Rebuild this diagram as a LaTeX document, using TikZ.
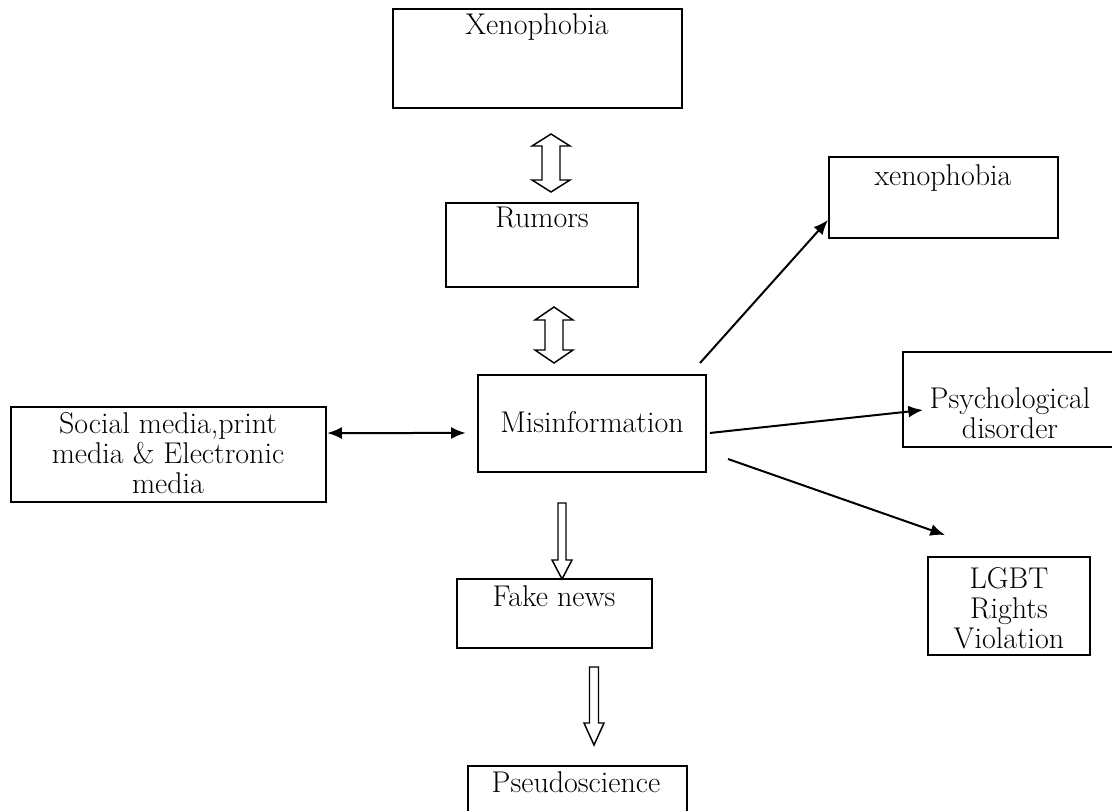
\documentclass[tikz,border=0pt]{standalone}
\usetikzlibrary{fit,arrows.meta}
\tikzset{
  box/.style={draw, line width=1.8pt, inner sep=0pt},
  lbl/.style={font=\fontsize{22.5}{22.5}\selectfont, inner sep=0pt, align=center},
  conn/.style={line width=1.5pt, -{Latex[length=11pt,width=9pt]}},
  blockarrow/.style={draw, line width=1.1pt, fill=white, line join=miter},
}
% vertical double block arrow: cx, ytop, ybot, head half width, shaft half width, head length
\newcommand\vDblArrow[6]{%
  \draw[blockarrow] (#1,#2) -- ({#1+#4},{#2+#6}) -- ({#1+#5},{#2+#6}) -- ({#1+#5},{#3-#6})
    -- ({#1+#4},{#3-#6}) -- (#1,#3) -- ({#1-#4},{#3-#6}) -- ({#1-#5},{#3-#6})
    -- ({#1-#5},{#2+#6}) -- ({#1-#4},{#2+#6}) -- cycle;}
% downward block arrow: cx, ytop, ytip, head half width, shaft half width, head length
\newcommand\vDownArrow[6]{%
  \draw[blockarrow] ({#1-#5},#2) -- ({#1+#5},#2) -- ({#1+#5},{#3-#6}) -- ({#1+#4},{#3-#6})
    -- (#1,#3) -- ({#1-#4},{#3-#6}) -- ({#1-#5},{#3-#6}) -- cycle;}
\begin{document}
\begin{tikzpicture}[x=0.75pt,y=-0.75pt]
\useasboundingbox (0,0) rectangle (1112,810);
% boxes
\node[box, fit={(393,9)(682,108)}] (xeno) {};
\node[box, fit={(446,203)(638,287)}] (rumors) {};
\node[box, fit={(829,157)(1058,238)}] (xenor) {};
\node[box, fit={(478,375)(706,472)}] (misinfo) {};
\node[box, fit={(11,407)(326,502)}] (social) {};
\node[box, fit={(903,352)(1120,447)}] (psych) {};
\node[box, fit={(928,557)(1090,655)}] (lgbt) {};
\node[box, fit={(457,579)(652,648)}] (fake) {};
\node[box, fit={(468,766)(687,830)}] (pseudo) {};
% texts (anchor base = baseline of the last line)
\node[lbl, anchor=base] (xenoT) at (537,34) {Xenophobia};
\node[lbl, anchor=base] (rumorsT) at (542,227) {Rumors};
\node[lbl, anchor=base] (xenorT) at (943,185) {xenophobia};
\node[lbl, anchor=base] (misinfoT) at (592,432) {Misinformation};
\node[lbl, anchor=base] (socialT) at (168,493) {Social media,print\\media \& Electronic\\media};
\node[lbl, anchor=base] (psychT) at (1010,438) {Psychological\\disorder};
\node[lbl, anchor=base] (lgbtT) at (1009,648) {LGBT\\Rights\\Violation};
\node[lbl, anchor=base] (fakeT) at (554,606) {Fake news};
\node[lbl, anchor=base] (pseudoT) at (576,792) {Pseudoscience};
% block arrows
\vDblArrow{551}{134}{192}{19}{9}{12}
\vDblArrow{554}{307}{363}{19}{9}{13}
\vDownArrow{562}{503}{579}{10}{4}{19}
\vDownArrow{594}{667}{745}{10}{4.5}{22}
% connectors
\draw[line width=1.5pt, {Latex[length=11pt,width=9pt]}-{Latex[length=11pt,width=9pt]}]
  ([yshift=16.1pt]social.east) -- ([yshift=-7.1pt,xshift=-8.3pt]misinfo.west);
\coordinate (m2xS) at (700,363);
\coordinate (m2xE) at (828,220);
\draw[conn] (m2xS) -- (m2xE);
\coordinate (m2pE) at (923,410);
\draw[conn] ([yshift=-7.1pt,xshift=2pt]misinfo.east) -- (m2pE);
\coordinate (m2lS) at (728,459);
\coordinate (m2lE) at (945,535);
\draw[conn] (m2lS) -- (m2lE);
\end{tikzpicture}
\end{document}
